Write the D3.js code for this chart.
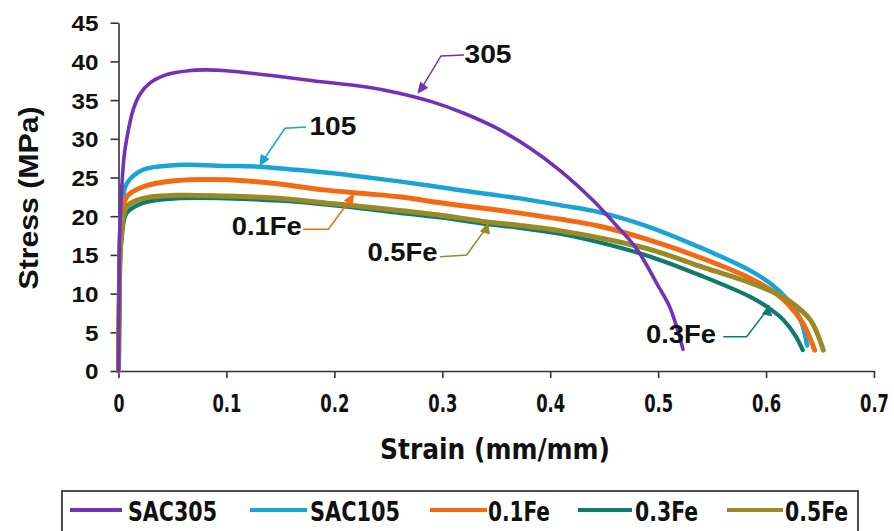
<!DOCTYPE html>
<html>
<head>
<meta charset="utf-8">
<script src="https://cdn.jsdelivr.net/npm/d3@7"></script>
<style>
html,body{margin:0;padding:0;background:#fff;}
svg{display:block;}
</style>
</head>
<body>
<svg id="chart" width="894" height="531"></svg>
<script>
// ---------- DATA ----------
const seriesNames = ["SAC305", "SAC105", "0.1Fe", "0.3Fe", "0.5Fe"];
const seriesColors = ["#7232b8", "#18a4d4", "#f36a12", "#107a6d", "#998a25"];

const sac305 = [[0,0],[0.0005,10],[0.001,17],[0.002,21],[0.005,27.5],[0.0076,30],[0.0137,33.8],[0.02,35.8],[0.029,37.2],[0.045,38.3],[0.065,38.8],[0.08,38.9],[0.1,38.8],[0.14,38.2],[0.18,37.5],[0.23,36.7],[0.26,35.9],[0.29,34.8],[0.32,33.3],[0.35,31.4],[0.38,28.9],[0.41,25.8],[0.44,22.0],[0.46,19.0],[0.48,15.8],[0.50,11.0],[0.51,8.5],[0.517,5.8],[0.523,2.8]];
const sac105 = [[0,0],[0.0008,12],[0.0015,18],[0.003,21],[0.0076,24.2],[0.0227,26.0],[0.054,26.6],[0.1,26.5],[0.13,26.4],[0.18,25.8],[0.22,25.2],[0.26,24.5],[0.30,23.7],[0.34,22.9],[0.372,22.3],[0.41,21.4],[0.446,20.5],[0.49,18.7],[0.54,15.9],[0.585,13.0],[0.605,11.2],[0.62,9.2],[0.632,6.6],[0.638,3.3]];
const fe01 = [[0,0],[0.0008,10],[0.0015,16],[0.003,19.5],[0.0076,22.5],[0.0227,23.8],[0.054,24.6],[0.1,24.7],[0.147,24.2],[0.19,23.4],[0.23,22.9],[0.26,22.5],[0.30,21.7],[0.34,21.0],[0.372,20.4],[0.41,19.6],[0.446,18.7],[0.49,17.0],[0.54,14.6],[0.585,12.0],[0.605,10.4],[0.62,8.7],[0.634,6.2],[0.645,2.7]];
const fe03 = [[0,0],[0.0008,10],[0.0015,14.5],[0.003,17.2],[0.0076,20.4],[0.0227,21.7],[0.054,22.3],[0.1,22.3],[0.15,22.0],[0.2,21.4],[0.25,20.6],[0.30,19.8],[0.34,19.0],[0.372,18.5],[0.41,17.7],[0.446,16.6],[0.49,14.9],[0.54,12.3],[0.585,9.6],[0.605,7.9],[0.616,6.6],[0.627,4.6],[0.634,2.7]];
const fe05 = [[0,0],[0.0008,10],[0.0015,15],[0.003,18],[0.0076,21.2],[0.0227,22.3],[0.054,22.7],[0.1,22.6],[0.15,22.3],[0.2,21.6],[0.25,20.9],[0.30,20.1],[0.34,19.3],[0.372,18.8],[0.41,18.1],[0.446,17.2],[0.49,15.8],[0.54,13.5],[0.585,11.4],[0.605,10.3],[0.622,9.0],[0.641,6.6],[0.653,2.7]];
const seriesData = [sac305, sac105, fe01, fe03, fe05];

const xTicks = [0, 0.1, 0.2, 0.3, 0.4, 0.5, 0.6, 0.7];
const xTickLabels = ["0", "0.1", "0.2", "0.3", "0.4", "0.5", "0.6", "0.7"];
const yTicks = [0, 5, 10, 15, 20, 25, 30, 35, 40, 45];

// callout labels
const calloutTexts = ["305", "105", "0.1Fe", "0.5Fe", "0.3Fe"];
const calloutSeries = [0, 1, 2, 4, 3];

// ---------- CHART ----------
const svg = d3.select("#chart");
const x = d3.scaleLinear().domain([0, 0.7]).range([118.5, 874]);
const y = d3.scaleLinear().domain([0, 45]).range([371, 22.7]);

const boldSans = "'Liberation Sans', Arial, sans-serif";
const narrow = "'Liberation Sans Narrow', 'DejaVu Sans Condensed', 'Liberation Sans', sans-serif";

// Y axis
const yAxis = svg.append("g").attr("transform", `translate(${x(0)},0)`)
  .call(d3.axisLeft(y).tickValues(yTicks).tickSize(8).tickSizeOuter(0).tickPadding(12));
yAxis.select(".domain").attr("stroke", "#333").attr("stroke-width", 1.6);
yAxis.selectAll(".tick line").attr("stroke", "#333").attr("stroke-width", 1.6);
yAxis.selectAll(".tick text")
  .attr("font-family", boldSans).attr("font-weight", "bold").attr("font-size", 22)
  .attr("fill", "#111").attr("dy", "0.36em")
  .attr("textLength", d => d >= 10 ? 27 : 13.5).attr("lengthAdjust", "spacingAndGlyphs");

// X axis
const xAxis = svg.append("g").attr("transform", `translate(0,${y(0)})`)
  .call(d3.axisBottom(x).tickValues(xTicks).tickSize(7).tickSizeOuter(0).tickPadding(17)
    .tickFormat((d, i) => xTickLabels[i]));
xAxis.select(".domain").attr("stroke", "#333").attr("stroke-width", 1.6);
xAxis.selectAll(".tick line").attr("stroke", "#333").attr("stroke-width", 1.6);
xAxis.selectAll(".tick text")
  .attr("font-family", narrow).attr("font-weight", "bold").attr("font-size", 24)
  .attr("fill", "#111").attr("dy", "0.71em")
  .attr("textLength", (d, i) => i === 0 ? 11 : 29).attr("lengthAdjust", "spacingAndGlyphs");

// Axis titles
svg.append("text").attr("x", 495).attr("y", 459).attr("text-anchor", "middle")
  .attr("font-family", narrow).attr("font-weight", "bold").attr("font-size", 29).attr("fill", "#111")
  .attr("textLength", 230).attr("lengthAdjust", "spacingAndGlyphs")
  .text("Strain (mm/mm)");
svg.append("text").attr("transform", "translate(38,198) rotate(-90)").attr("text-anchor", "middle")
  .attr("font-family", boldSans).attr("font-weight", "bold").attr("font-size", 27).attr("fill", "#111")
  .attr("textLength", 183).attr("lengthAdjust", "spacingAndGlyphs")
  .text("Stress (MPa)");

// Curves
const line = d3.line().x(d => x(d[0])).y(d => y(d[1])).curve(d3.curveCatmullRom.alpha(0.5));
const widths = [3.6, 4.5, 5, 4.2, 5];
const drawOrder = [1, 2, 3, 4, 0];
drawOrder.forEach(i => {
  svg.append("path").datum(seriesData[i])
    .attr("d", line).attr("fill", "none")
    .attr("stroke", seriesColors[i]).attr("stroke-width", widths[i])
    .attr("stroke-linecap", "round").attr("stroke-linejoin", "round");
});

// Callouts (positions in data coordinates, through scales)
const calloutLabelPos = [[0.3424, 39.8], [0.1987, 30.5], [0.1373, 17.6], [0.2631, 14.2], [0.5212, 3.6]];
const calloutPaths = [
  [[0.3201, 40.83], [0.2988, 40.70], [0.2803, 36.43], [0.2775, 35.92]],
  [[0.1737, 31.52], [0.1543, 31.36], [0.1330, 27.0], [0.1311, 26.55]],
  [[0.1709, 18.31], [0.1944, 18.31], [0.2145, 22.09], [0.2177, 22.87]],
  [[0.2979, 14.77], [0.3226, 14.99], [0.3411, 18.57], [0.3423, 19.12]],
  [[0.5604, 4.43], [0.5820, 4.43], [0.6021, 8.10], [0.6027, 8.53]]
];
calloutTexts.forEach((t, k) => {
  const c = seriesColors[calloutSeries[k]];
  const pts = calloutPaths[k].map(p => [x(p[0]), y(p[1])]);
  const n = pts.length;
  svg.append("path").attr("d", d3.line()(pts.slice(0, n - 1)))
    .attr("fill", "none").attr("stroke", c).attr("stroke-width", 1.5);
  const [x1, y1] = pts[n - 2], [x2, y2] = pts[n - 1];
  const ang = Math.atan2(y2 - y1, x2 - x1);
  const L = 10, W = 4.5;
  const bx = x2 - L * Math.cos(ang), by = y2 - L * Math.sin(ang);
  const tri = [[x2, y2],
    [bx + W * Math.sin(ang), by - W * Math.cos(ang)],
    [bx - W * Math.sin(ang), by + W * Math.cos(ang)]];
  svg.append("path").attr("d", d3.line()(tri) + "Z").attr("fill", c).attr("stroke", c).attr("stroke-width", 1);
  const lp = calloutLabelPos[k];
  const w = t.length === 3 ? 47 : 70;
  svg.append("text").attr("x", x(lp[0])).attr("y", y(lp[1])).attr("text-anchor", "middle")
    .attr("font-family", boldSans).attr("font-weight", "bold").attr("font-size", 25)
    .attr("fill", "#111").attr("textLength", w).attr("lengthAdjust", "spacingAndGlyphs")
    .text(t);
});

// Legend
const legend = svg.append("g");
legend.append("rect").attr("x", 62).attr("y", 491).attr("width", 796).attr("height", 60)
  .attr("fill", "none").attr("stroke", "#222").attr("stroke-width", 1.6);
const legLineX = [70, 250, 430, 578, 727];
const legLineW = [52, 57, 57, 54, 56];
const legTextX = [128, 310, 488, 635, 785];
const legTextW = [89, 90, 62, 63, 63];
seriesNames.forEach((nm, i) => {
  legend.append("line").attr("x1", legLineX[i]).attr("x2", legLineX[i] + legLineW[i])
    .attr("y1", 510).attr("y2", 510).attr("stroke", seriesColors[i]).attr("stroke-width", 4);
  legend.append("text").attr("x", legTextX[i]).attr("y", 521)
    .attr("font-family", narrow).attr("font-weight", "bold").attr("font-size", 26).attr("fill", "#111")
    .attr("textLength", legTextW[i]).attr("lengthAdjust", "spacingAndGlyphs")
    .text(nm);
});
</script>
</body>
</html>
